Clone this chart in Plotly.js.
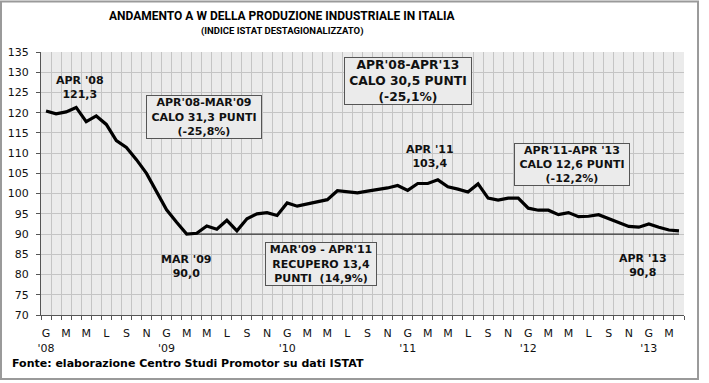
<!DOCTYPE html>
<html>
<head>
<meta charset="utf-8">
<script src="https://cdn.plot.ly/plotly-3.0.1.min.js"></script>
<style>
html,body{margin:0;padding:0;background:#fff;}
#chart{width:709px;height:383px;}
</style>
</head>
<body>
<div id="chart"></div>
<script>
// Monthly categories Jan 2008 - Apr 2013
var categories = [
 "2008-01","2008-02","2008-03","2008-04","2008-05","2008-06","2008-07","2008-08","2008-09","2008-10","2008-11","2008-12",
 "2009-01","2009-02","2009-03","2009-04","2009-05","2009-06","2009-07","2009-08","2009-09","2009-10","2009-11","2009-12",
 "2010-01","2010-02","2010-03","2010-04","2010-05","2010-06","2010-07","2010-08","2010-09","2010-10","2010-11","2010-12",
 "2011-01","2011-02","2011-03","2011-04","2011-05","2011-06","2011-07","2011-08","2011-09","2011-10","2011-11","2011-12",
 "2012-01","2012-02","2012-03","2012-04","2012-05","2012-06","2012-07","2012-08","2012-09","2012-10","2012-11","2012-12",
 "2013-01","2013-02","2013-03","2013-04"
];
// Industrial production index (seasonally adjusted)
var values = [
 120.4,119.7,120.2,121.3,117.8,119.2,117.1,113.1,111.4,108.4,105.0,100.5,
 96.0,92.9,90.0,90.2,92.0,91.2,93.4,90.8,93.8,95.0,95.3,94.6,
 97.7,96.9,97.4,97.9,98.5,100.7,100.4,100.2,100.6,101.0,101.4,102.0,
 100.8,102.5,102.5,103.4,101.7,101.1,100.4,102.4,98.9,98.4,98.9,98.9,
 96.4,95.9,95.9,94.8,95.3,94.3,94.4,94.8,93.8,92.8,91.9,91.7,
 92.5,91.7,91.0,90.8
];
// Tick labels every second month (Italian initials), year below January
var tickLabels = [
 "G<br>'08","M","M","L","S","N",
 "G<br>'09","M","M","L","S","N",
 "G<br>'10","M","M","L","S","N",
 "G<br>'11","M","M","L","S","N",
 "G<br>'12","M","M","L","S","N",
 "G<br>'13","M"
];
// Reference level line (March 2009 trough) to April 2013
var refStart = "2009-03";
var refEnd = "2013-04";

var xIdx = categories.map(function(c, i){ return i; });
var tickVals = tickLabels.map(function(t, k){ return 2*k; });
var iStart = categories.indexOf(refStart);
var iEnd = categories.indexOf(refEnd);
var refLevel = values[iStart];

var traces = [
 {
  x: [xIdx[iStart], xIdx[iEnd]],
  y: [refLevel, refLevel],
  type: 'scatter', mode: 'lines',
  line: {color: '#333333', width: 1.3},
  hoverinfo: 'skip', showlegend: false
 },
 {
  x: xIdx, y: values,
  type: 'scatter', mode: 'lines',
  line: {color: '#000000', width: 3.2},
  showlegend: false
 }
];

var bold = {family: 'DejaVu Sans, Verdana, sans-serif', size: 11, color: '#111', weight: 'bold'};
function ann(text, x, y, opts){
  var a = {text: text, x: x, y: y, xref: 'x', yref: 'y', showarrow: false,
           xanchor: 'center', yanchor: 'middle',
           font: Object.assign({}, bold, (opts && opts.font) || {}), align: 'center'};
  if (opts && opts.box){
    a.bordercolor = '#555'; a.borderwidth = 1; a.borderpad = 0;
    a.bgcolor = '#ebebeb';
    a.width = opts.box[0]; a.height = opts.box[1];
  }
  return a;
}

var titleFont = 'Roboto, Liberation Sans, sans-serif';
var annotations = [
 ann("APR '08<br>121,3", 3.38, 126.2),
 ann("APR'08-MAR'09<br>CALO 31,3 PUNTI<br>(-25,8%)", 15.72, 118.84, {box: [114, 42]}),
 ann("APR'08-APR'13<br>CALO 30,5 PUNTI<br>(-25,1%)", 36.02, 127.72, {box: [126, 46], font: {size: 12.3}}),
 ann("APR '11<br>103,4", 38.2, 109.2),
 ann("APR'11-APR '13<br>CALO 12,6 PUNTI<br>(-12,2%)", 52.34, 107.13, {box: [114, 41]}),
 ann("MAR '09<br>90,0", 13.93, 81.97),
 ann("MAR'09 - APR'11<br>RECUPERO 13,4<br>PUNTI  (14,9%)", 27.36, 82.58, {box: [110, 42]}),
 ann("APR '13<br>90,8", 59.4, 82.2),
 {text: "ANDAMENTO A W DELLA PRODUZIONE INDUSTRIALE IN ITALIA", xref: 'paper', yref: 'paper',
  x: 0.375, y: 1.1385, xanchor: 'center', yanchor: 'middle', showarrow: false,
  font: {family: titleFont, size: 12, color: '#000', weight: 'bold'}},
 {text: "(INDICE ISTAT DESTAGIONALIZZATO)", xref: 'paper', yref: 'paper',
  x: 0.375, y: 1.078, xanchor: 'center', yanchor: 'middle', showarrow: false,
  font: {family: titleFont, size: 9.5, color: '#000', weight: 'bold'}},
 {text: "Fonte: elaborazione Centro Studi Promotor su dati ISTAT", xref: 'paper', yref: 'paper',
  x: -0.0482, y: -0.186, xanchor: 'left', yanchor: 'middle', showarrow: false,
  font: {family: 'DejaVu Sans, Verdana, sans-serif', size: 11, color: '#000', weight: 'bold'}}
];

var layout = {
  width: 709, height: 383,
  margin: {l: 41, r: 25, t: 52, b: 68, pad: 0},
  paper_bgcolor: '#ffffff',
  plot_bgcolor: '#ebebeb',
  xaxis: {
    range: [-0.5, categories.length - 0.5],
    tickmode: 'array', tickvals: tickVals, ticktext: tickLabels,
    ticks: '', showgrid: false, zeroline: false,
    showline: true, linecolor: '#555', linewidth: 1,
    tickfont: {family: 'DejaVu Sans, Verdana, sans-serif', size: 11, color: '#111'},
    ticklabelstandoff: 8,
    minor: {tick0: -0.5, dtick: 1, ticks: 'outside', ticklen: 4, tickcolor: '#555',
            showgrid: true, gridcolor: '#c4c4c4', gridwidth: 1},
    fixedrange: true
  },
  yaxis: {
    range: [70, 135], dtick: 5, tick0: 70,
    ticks: 'outside', ticklen: 4, tickcolor: '#555',
    showgrid: true, gridcolor: '#c4c4c4', gridwidth: 1, zeroline: false,
    showline: true, linecolor: '#555', linewidth: 1,
    tickfont: {family: 'DejaVu Sans, Verdana, sans-serif', size: 11, color: '#111'},
    ticklabelstandoff: 5,
    fixedrange: true
  },
  shapes: [
    {type: 'rect', xref: 'paper', yref: 'paper', x0: -0.0622, x1: 1.0218, y0: -0.2435, y1: 1.1917,
     line: {color: '#9a9a9a', width: 2}, fillcolor: 'rgba(0,0,0,0)', layer: 'below'}
  ],
  annotations: annotations
};

Plotly.newPlot('chart', traces, layout, {displayModeBar: false, staticPlot: true});
</script>
</body>
</html>
